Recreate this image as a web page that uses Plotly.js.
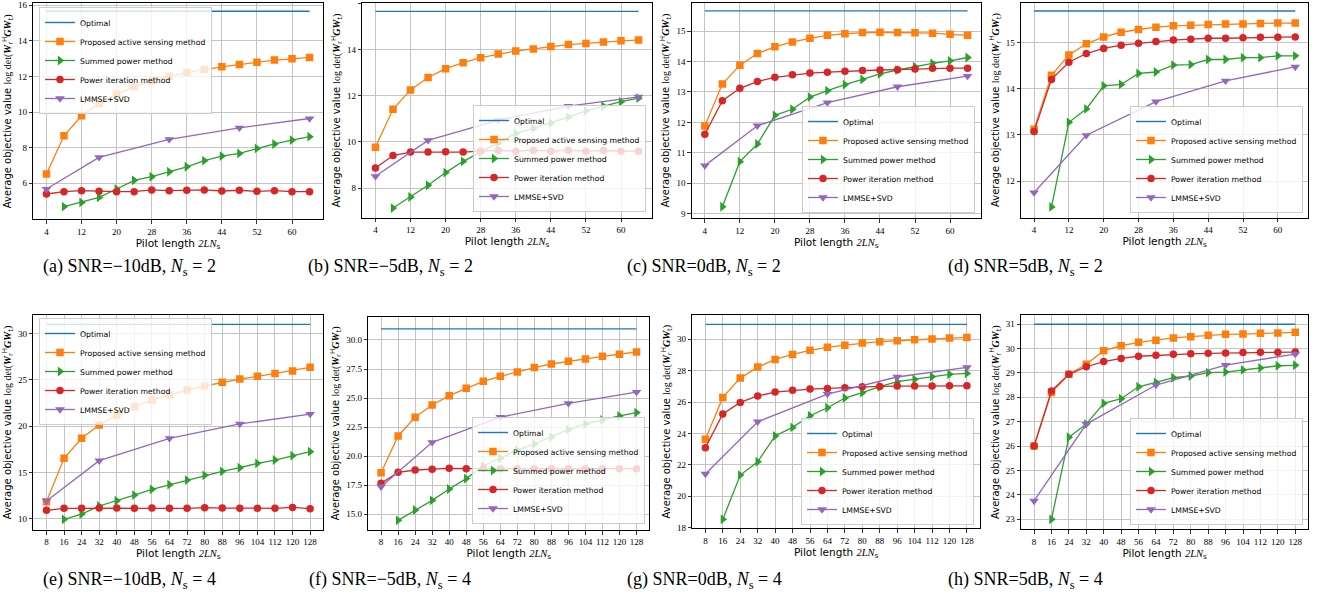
<!DOCTYPE html>
<html><head><meta charset="utf-8">
<script src="https://cdn.plot.ly/plotly-3.0.1.min.js"></script>
<style>html,body{margin:0;padding:0;background:#fff;} #chart{width:1321px;height:601px;}</style>
</head><body><div id="chart"></div>
<script>
// ---------- data ----------
const seriesNames = ["Optimal", "Proposed active sensing method", "Summed power method", "Power iteration method", "LMMSE+SVD"];

const pilotNs2 = [4, 8, 12, 16, 20, 24, 28, 32, 36, 40, 44, 48, 52, 56, 60, 64];
const pilotNs2Summed = [8, 12, 16, 20, 24, 28, 32, 36, 40, 44, 48, 52, 56, 60, 64];
const pilotNs2Lmmse = [4, 16, 32, 48, 64];
const pilotNs4 = [8, 16, 24, 32, 40, 48, 56, 64, 72, 80, 88, 96, 104, 112, 120, 128];
const pilotNs4Summed = [16, 24, 32, 40, 48, 56, 64, 72, 80, 88, 96, 104, 112, 120, 128];
const pilotNs4Lmmse = [8, 32, 64, 96, 128];
const xTicksNs2 = [4, 12, 20, 28, 36, 44, 52, 60];
const xTicksNs4 = [8, 16, 24, 32, 40, 48, 56, 64, 72, 80, 88, 96, 104, 112, 120, 128];

// (a) SNR=-10dB, Ns=2
const optimalA = 15.66;
const proposedA = [6.52, 8.67, 9.79, 10.49, 11.01, 11.42, 11.74, 12.02, 12.22, 12.39, 12.54, 12.67, 12.80, 12.92, 12.99, 13.07];
const summedA = [4.69, 4.93, 5.21, 5.68, 6.17, 6.37, 6.65, 6.93, 7.27, 7.53, 7.68, 7.96, 8.21, 8.43, 8.62];
const powerA = [5.40, 5.53, 5.59, 5.55, 5.53, 5.53, 5.63, 5.59, 5.61, 5.63, 5.57, 5.61, 5.55, 5.59, 5.53, 5.53];
const lmmseA = [5.68, 7.46, 8.47, 9.12, 9.64];
const yTicksA = [6, 8, 10, 12, 14, 16];

// (b) SNR=-5dB, Ns=2
const optimalB = 15.67;
const proposedB = [9.77, 11.42, 12.26, 12.80, 13.18, 13.44, 13.66, 13.82, 13.95, 14.04, 14.14, 14.23, 14.28, 14.34, 14.39, 14.43];
const summedB = [7.13, 7.61, 8.12, 8.67, 9.16, 9.56, 9.96, 10.37, 10.59, 10.82, 11.08, 11.35, 11.55, 11.75, 11.90];
const powerB = [8.87, 9.41, 9.56, 9.56, 9.57, 9.56, 9.60, 9.63, 9.60, 9.64, 9.60, 9.64, 9.60, 9.63, 9.60, 9.60];
const lmmseB = [8.51, 10.07, 10.95, 11.56, 11.96];
const yTicksB = [8, 10, 12, 14, 16];

// (c) SNR=0dB, Ns=2
const optimalC = 15.66;
const proposedC = [11.88, 13.26, 13.88, 14.26, 14.48, 14.64, 14.76, 14.86, 14.91, 14.95, 14.96, 14.95, 14.94, 14.93, 14.89, 14.86];
const summedC = [9.23, 10.71, 11.29, 12.23, 12.43, 12.83, 13.04, 13.24, 13.41, 13.59, 13.72, 13.83, 13.94, 14.02, 14.13];
const powerC = [11.61, 12.71, 13.12, 13.34, 13.48, 13.56, 13.62, 13.65, 13.68, 13.70, 13.72, 13.73, 13.75, 13.78, 13.78, 13.78];
const lmmseC = [10.58, 11.89, 12.65, 13.17, 13.52];
const yTicksC = [9, 10, 11, 12, 13, 14, 15];

// (d) SNR=5dB, Ns=2
const optimalD = 15.68;
const proposedD = [13.12, 14.29, 14.73, 14.97, 15.12, 15.22, 15.28, 15.33, 15.36, 15.37, 15.39, 15.40, 15.40, 15.41, 15.42, 15.42];
const summedD = [11.44, 13.27, 13.56, 14.06, 14.09, 14.33, 14.36, 14.51, 14.52, 14.63, 14.63, 14.67, 14.67, 14.71, 14.71];
const powerD = [13.07, 14.20, 14.57, 14.76, 14.87, 14.94, 14.98, 15.02, 15.05, 15.07, 15.09, 15.09, 15.10, 15.11, 15.11, 15.12];
const lmmseD = [11.75, 12.99, 13.72, 14.17, 14.47];
const yTicksD = [12, 13, 14, 15];

// (e) SNR=-10dB, Ns=4
const optimalE = 30.97;
const proposedE = [11.83, 16.51, 18.67, 20.11, 21.19, 22.09, 22.81, 23.35, 23.88, 24.32, 24.71, 25.07, 25.36, 25.68, 25.94, 26.33];
const summedE = [9.93, 10.50, 11.37, 11.94, 12.55, 13.17, 13.67, 14.17, 14.68, 15.11, 15.50, 15.97, 16.33, 16.80, 17.23];
const powerE = [10.90, 11.12, 11.12, 11.15, 11.15, 11.12, 11.15, 11.12, 11.12, 11.19, 11.15, 11.12, 11.12, 11.12, 11.22, 11.08];
const lmmseE = [11.91, 16.26, 18.67, 20.22, 21.29];
const yTicksE = [10, 15, 20, 25, 30];

// (f) SNR=-5dB, Ns=4
const optimalF = 30.95;
const proposedF = [18.58, 21.74, 23.35, 24.41, 25.21, 25.84, 26.44, 26.87, 27.25, 27.62, 27.93, 28.16, 28.36, 28.59, 28.77, 28.97];
const summedF = [14.48, 15.37, 16.20, 17.18, 18.07, 19.16, 19.82, 20.53, 21.05, 21.65, 22.28, 22.77, 23.12, 23.46, 23.75];
const powerF = [17.67, 18.61, 18.81, 18.87, 18.96, 18.93, 18.96, 18.93, 18.93, 18.93, 18.93, 18.93, 18.93, 18.93, 18.93, 18.93];
const lmmseF = [17.38, 21.19, 23.35, 24.55, 25.52];
const yTicksF = [15, 17.5, 20, 22.5, 25, 27.5, 30];

// (g) SNR=0dB, Ns=4
const optimalG = 30.95;
const proposedG = [23.63, 26.30, 27.53, 28.23, 28.72, 29.04, 29.30, 29.49, 29.63, 29.76, 29.85, 29.91, 29.97, 30.02, 30.08, 30.12];
const summedG = [18.53, 21.35, 22.20, 23.84, 24.39, 25.13, 25.64, 26.26, 26.60, 26.98, 27.30, 27.45, 27.62, 27.77, 27.83];
const powerG = [23.10, 25.24, 25.98, 26.39, 26.64, 26.75, 26.83, 26.87, 26.92, 26.98, 27.00, 27.02, 27.02, 27.02, 27.04, 27.04];
const lmmseG = [21.42, 24.75, 26.51, 27.60, 28.21];
const yTicksG = [18, 20, 22, 24, 26, 28, 30];

// (h) SNR=5dB, Ns=4
const optimalH = 30.99;
const proposedH = [26.00, 28.19, 28.94, 29.35, 29.91, 30.11, 30.25, 30.34, 30.43, 30.48, 30.54, 30.58, 30.59, 30.62, 30.63, 30.66];
const summedH = [23.00, 26.36, 26.90, 27.75, 27.94, 28.43, 28.61, 28.80, 28.87, 29.01, 29.03, 29.12, 29.20, 29.29, 29.31];
const powerH = [26.00, 28.26, 28.94, 29.25, 29.46, 29.59, 29.68, 29.72, 29.76, 29.78, 29.80, 29.81, 29.83, 29.84, 29.84, 29.85];
const lmmseH = [23.75, 26.90, 28.50, 29.32, 29.77];
const yTicksH = [23, 24, 25, 26, 27, 28, 29, 30, 31];

const captions = [
  "(a) SNR=−10dB, <i>N</i><sub>s</sub> = 2",
  "(b) SNR=−5dB, <i>N</i><sub>s</sub> = 2",
  "(c) SNR=0dB, <i>N</i><sub>s</sub> = 2",
  "(d) SNR=5dB, <i>N</i><sub>s</sub> = 2",
  "(e) SNR=−10dB, <i>N</i><sub>s</sub> = 4",
  "(f) SNR=−5dB, <i>N</i><sub>s</sub> = 4",
  "(g) SNR=0dB, <i>N</i><sub>s</sub> = 4",
  "(h) SNR=5dB, <i>N</i><sub>s</sub> = 4"
];

// ---------- panel assembly ----------
const panels = [
  {x: pilotNs2, xs: pilotNs2Summed, xl: pilotNs2Lmmse, xt: xTicksNs2, opt: optimalA, prop: proposedA, sum: summedA, pow: powerA, lm: lmmseA, yt: yTicksA},
  {x: pilotNs2, xs: pilotNs2Summed, xl: pilotNs2Lmmse, xt: xTicksNs2, opt: optimalB, prop: proposedB, sum: summedB, pow: powerB, lm: lmmseB, yt: yTicksB},
  {x: pilotNs2, xs: pilotNs2Summed, xl: pilotNs2Lmmse, xt: xTicksNs2, opt: optimalC, prop: proposedC, sum: summedC, pow: powerC, lm: lmmseC, yt: yTicksC},
  {x: pilotNs2, xs: pilotNs2Summed, xl: pilotNs2Lmmse, xt: xTicksNs2, opt: optimalD, prop: proposedD, sum: summedD, pow: powerD, lm: lmmseD, yt: yTicksD},
  {x: pilotNs4, xs: pilotNs4Summed, xl: pilotNs4Lmmse, xt: xTicksNs4, opt: optimalE, prop: proposedE, sum: summedE, pow: powerE, lm: lmmseE, yt: yTicksE},
  {x: pilotNs4, xs: pilotNs4Summed, xl: pilotNs4Lmmse, xt: xTicksNs4, opt: optimalF, prop: proposedF, sum: summedF, pow: powerF, lm: lmmseF, yt: yTicksF},
  {x: pilotNs4, xs: pilotNs4Summed, xl: pilotNs4Lmmse, xt: xTicksNs4, opt: optimalG, prop: proposedG, sum: summedG, pow: powerG, lm: lmmseG, yt: yTicksG},
  {x: pilotNs4, xs: pilotNs4Summed, xl: pilotNs4Lmmse, xt: xTicksNs4, opt: optimalH, prop: proposedH, sum: summedH, pow: powerH, lm: lmmseH, yt: yTicksH}
];

// layout geometry (pixels) – positions only
const W = 1321, H = 601;
const boxes = [
  {l: 33.3, r: 322.7, t: 3.3, b: 219.3, yr: [3.98, 16.11], xr: [1, 67], lg: {x: 39, y: 7, xa: 'left', ya: 'top'}, cap: {x: 129, y: 267}},
  {l: 362.3, r: 651.7, t: 3.3, b: 217.5, yr: [6.72, 16.02], xr: [1, 67], lg: {x: 646, y: 212, xa: 'right', ya: 'bottom'}, cap: {x: 390, y: 267}},
  {l: 691.7, r: 980.7, t: 2.7, b: 218.3, yr: [8.85, 15.93], xr: [1, 67], lg: {x: 975, y: 213, xa: 'right', ya: 'bottom'}, cap: {x: 704, y: 267}},
  {l: 1021, r: 1308.3, t: 2.7, b: 217.5, yr: [11.21, 15.86], xr: [1, 67], lg: {x: 1303, y: 213, xa: 'right', ya: 'bottom'}, cap: {x: 1025, y: 267}},
  {l: 33.3, r: 323.3, t: 315, b: 530, yr: [8.78, 31.98], xr: [2, 134], lg: {x: 39, y: 318, xa: 'left', ya: 'top'}, cap: {x: 129, y: 580}},
  {l: 368.3, r: 649.3, t: 316.7, b: 530, yr: [13.65, 32.0], xr: [2, 134], lg: {x: 645, y: 524, xa: 'right', ya: 'bottom'}, cap: {x: 390, y: 580}},
  {l: 692.3, r: 980, t: 315, b: 528.3, yr: [17.96, 31.55], xr: [2, 134], lg: {x: 974, y: 525, xa: 'right', ya: 'bottom'}, cap: {x: 704, y: 580}},
  {l: 1021, r: 1308.3, t: 315, b: 529.3, yr: [22.59, 31.37], xr: [2, 134], lg: {x: 1303, y: 525, xa: 'right', ya: 'bottom'}, cap: {x: 1025, y: 580}}
];

const colors = ['#1f77b4', '#ff7f0e', '#2ca02c', '#d62728', '#9467bd'];
const symbols = [null, 'square', 'triangle-right', 'circle', 'triangle-down'];
const msize = [0, 7.5, 8.5, 7.5, 8.5];

const serif = 'Liberation Serif';
const xTitle = 'Pilot length <span style="font-family:Liberation Serif;font-style:italic">2LN</span><sub>s</sub>';
const yTitle = 'Average objective value <span style="font-family:Liberation Serif">log det(</span><span style="font-family:Liberation Serif;font-style:italic;font-weight:bold">W</span><sub>r</sub><sup>H</sup><span style="font-family:Liberation Serif;font-style:italic;font-weight:bold">GW</span><sub>t</sub><span style="font-family:Liberation Serif">)</span>';

const traces = [];
const layout = {
  width: W, height: H,
  margin: {l: 0, r: 0, t: 0, b: 0},
  paper_bgcolor: '#ffffff', plot_bgcolor: '#ffffff',
  showlegend: true,
  font: {family: 'DejaVu Sans', color: '#000'},
  annotations: []
};

panels.forEach((p, i) => {
  const n = i + 1;
  const xa = n === 1 ? 'x' : 'x' + n;
  const ya = n === 1 ? 'y' : 'y' + n;
  const lg = n === 1 ? 'legend' : 'legend' + n;
  const xs = [p.x, p.x, p.xs, p.x, p.xl];
  const ys = [[p.opt, p.opt], p.prop, p.sum, p.pow, p.lm];
  for (let s = 0; s < 5; s++) {
    const tr = {
      type: 'scatter',
      x: s === 0 ? [p.x[0], p.x[p.x.length - 1]] : xs[s],
      y: ys[s],
      name: seriesNames[s],
      xaxis: xa, yaxis: ya, legend: lg,
      mode: s === 0 ? 'lines' : 'lines+markers',
      line: {color: colors[s], width: s === 0 ? 1.4 : 1.3},
      hoverinfo: 'skip'
    };
    if (s > 0) tr.marker = {symbol: symbols[s], size: msize[s], color: colors[s], line: {width: 0}};
    traces.push(tr);
  }
  const b = boxes[i];
  const axKey = n === 1 ? '' : String(n);
  layout['xaxis' + axKey] = {
    domain: [b.l / W, b.r / W], anchor: ya, range: b.xr,
    tickmode: 'array', tickvals: p.xt,
    ticks: 'outside', ticklen: 3.5, tickwidth: 0.8, tickcolor: '#000',
    tickfont: {family: serif, size: 9, color: '#000'},
    showgrid: true, gridcolor: '#c4c4c4', gridwidth: 1,
    showline: true, linecolor: '#000', linewidth: 1, mirror: true, zeroline: false,
    title: {text: xTitle, font: {family: 'DejaVu Sans', size: 10.5, color: '#000'}, standoff: 3},
    automargin: false
  };
  layout['yaxis' + axKey] = {
    domain: [1 - b.b / H, 1 - b.t / H], anchor: xa, range: b.yr,
    tickmode: 'array', tickvals: p.yt,
    tickformat: i === 5 ? '.1f' : '',
    ticks: 'outside', ticklen: 3.5, tickwidth: 0.8, tickcolor: '#000',
    tickfont: {family: serif, size: 9, color: '#000'},
    showgrid: true, gridcolor: '#c4c4c4', gridwidth: 1,
    showline: true, linecolor: '#000', linewidth: 1, mirror: true, zeroline: false,
    title: {text: yTitle, font: {family: 'DejaVu Sans', size: 10, color: '#000'}, standoff: 4},
    automargin: false
  };
  layout[lg] = {
    x: b.lg.x / W, y: 1 - b.lg.y / H, xanchor: b.lg.xa, yanchor: b.lg.ya,
    xref: 'paper', yref: 'paper',
    bgcolor: 'rgba(255,255,255,0.8)', bordercolor: '#cccccc', borderwidth: 1,
    font: {family: 'DejaVu Sans', size: 7.7, color: '#000'},
    itemwidth: 30, tracegroupgap: 0, traceorder: 'normal'
  };
  layout.annotations.push({
    xref: 'paper', yref: 'paper', x: b.cap.x / W, y: 1 - b.cap.y / H,
    xanchor: 'center', yanchor: 'middle', showarrow: false,
    text: captions[i], font: {family: serif, size: 18, color: '#000'}
  });
});

Plotly.newPlot('chart', traces, layout, {staticPlot: true, displayModeBar: false});
</script>
</body></html>
